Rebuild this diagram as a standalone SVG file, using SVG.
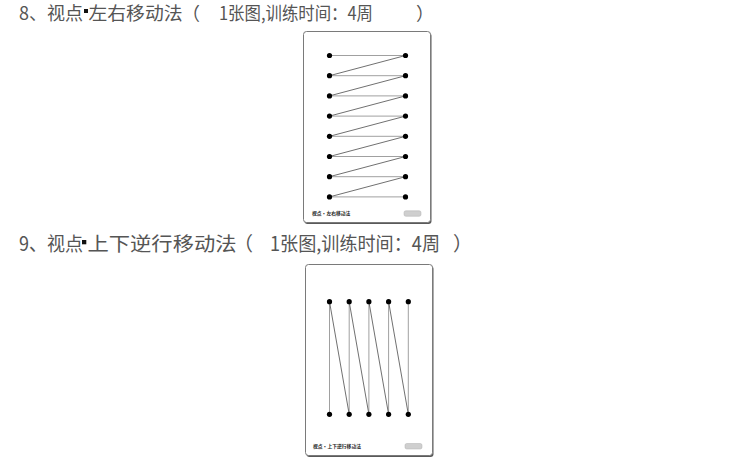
<svg xmlns="http://www.w3.org/2000/svg" width="750" height="463" viewBox="0 0 750 463">
<style>
.h{font-family:"Noto Sans CJK SC","Liberation Sans",sans-serif;fill:#555;font-weight:400}
.sq{fill:#111}
.card{fill:#fff;stroke:#7a7a7a;stroke-width:1}
.shadow{fill:#5a5a5a}
.lbl{font-family:"Noto Sans CJK SC",sans-serif;font-size:4.8px;font-weight:bold;fill:#222}
.tab{fill:#cfcfcf;stroke:#b0b0b0;stroke-width:0.5}
.hl{stroke:#a0a0a0;stroke-width:1;fill:none}
.dl{stroke:#606060;stroke-width:0.9;fill:none}
.dot{fill:#000}
</style>
<rect width="750" height="463" fill="#fff"/>

<g id="heading8">
<text class="h" x="19" y="19.5" font-size="18" textLength="64" lengthAdjust="spacingAndGlyphs">8、视点</text>
<rect class="sq" x="84" y="9" width="4" height="4"/>
<text class="h" x="88.5" y="19.5" font-size="18" textLength="94" lengthAdjust="spacingAndGlyphs">左右移动法</text>
<text class="h" x="182" y="19.5" font-size="18">（</text>
<text class="h" x="219" y="19.5" font-size="18" textLength="154" lengthAdjust="spacingAndGlyphs">1张图,训练时间：4周</text>
<text class="h" x="416" y="19.5" font-size="18">）</text>
</g>

<g id="card8">
<rect class="shadow" x="304.5" y="33" width="127" height="191" rx="3"/>
<rect class="card" x="303.5" y="31.5" width="127" height="191" rx="3"/>
<text class="lbl" x="312" y="215">视点·左右移动法</text>
<rect class="tab" x="404" y="210.8" width="17" height="5.5" rx="1.8"/>
</g>

<g id="connectors8">
<line class="hl" x1="329.5" y1="55.5" x2="405.5" y2="55.5"/>
<line class="hl" x1="329.5" y1="75.7" x2="405.5" y2="75.7"/>
<line class="hl" x1="329.5" y1="95.9" x2="405.5" y2="95.9"/>
<line class="hl" x1="329.5" y1="116.1" x2="405.5" y2="116.1"/>
<line class="hl" x1="329.5" y1="136.3" x2="405.5" y2="136.3"/>
<line class="hl" x1="329.5" y1="156.5" x2="405.5" y2="156.5"/>
<line class="hl" x1="329.5" y1="176.7" x2="405.5" y2="176.7"/>
<line class="hl" x1="329.5" y1="196.9" x2="405.5" y2="196.9"/>
<line class="dl" x1="405.5" y1="55.5" x2="329.5" y2="75.7"/>
<line class="dl" x1="405.5" y1="75.7" x2="329.5" y2="95.9"/>
<line class="dl" x1="405.5" y1="95.9" x2="329.5" y2="116.1"/>
<line class="dl" x1="405.5" y1="116.1" x2="329.5" y2="136.3"/>
<line class="dl" x1="405.5" y1="136.3" x2="329.5" y2="156.5"/>
<line class="dl" x1="405.5" y1="156.5" x2="329.5" y2="176.7"/>
<line class="dl" x1="405.5" y1="176.7" x2="329.5" y2="196.9"/>
</g>

<g id="dots8">
<circle class="dot" cx="329.5" cy="55.5" r="2.6"/><circle class="dot" cx="405.5" cy="55.5" r="2.6"/>
<circle class="dot" cx="329.5" cy="75.7" r="2.6"/><circle class="dot" cx="405.5" cy="75.7" r="2.6"/>
<circle class="dot" cx="329.5" cy="95.9" r="2.6"/><circle class="dot" cx="405.5" cy="95.9" r="2.6"/>
<circle class="dot" cx="329.5" cy="116.1" r="2.6"/><circle class="dot" cx="405.5" cy="116.1" r="2.6"/>
<circle class="dot" cx="329.5" cy="136.3" r="2.6"/><circle class="dot" cx="405.5" cy="136.3" r="2.6"/>
<circle class="dot" cx="329.5" cy="156.5" r="2.6"/><circle class="dot" cx="405.5" cy="156.5" r="2.6"/>
<circle class="dot" cx="329.5" cy="176.7" r="2.6"/><circle class="dot" cx="405.5" cy="176.7" r="2.6"/>
<circle class="dot" cx="329.5" cy="196.9" r="2.6"/><circle class="dot" cx="405.5" cy="196.9" r="2.6"/>
</g>

<g id="heading9">
<text class="h" x="19" y="251" font-size="19.5" textLength="64" lengthAdjust="spacingAndGlyphs">9、视点</text>
<rect class="sq" x="82" y="240" width="4.3" height="4.3"/>
<text class="h" x="87.5" y="251" font-size="19.5" textLength="149" lengthAdjust="spacingAndGlyphs">上下逆行移动法</text>
<text class="h" x="233.5" y="251" font-size="19.5">（</text>
<text class="h" x="270" y="251" font-size="19.5" textLength="170" lengthAdjust="spacingAndGlyphs">1张图,训练时间：4周</text>
<text class="h" x="453" y="251" font-size="19.5">）</text>
</g>

<g id="card9">
<rect class="shadow" x="306.5" y="266" width="127" height="191" rx="3"/>
<rect class="card" x="305.5" y="264.5" width="127" height="191" rx="3"/>
<text class="lbl" x="313" y="447.5">视点·上下逆行移动法</text>
<rect class="tab" x="405" y="443.5" width="17" height="5.5" rx="1.8"/>
</g>

<g id="connectors9">
<line class="hl" x1="329.5" y1="301.7" x2="329.5" y2="414.3"/>
<line class="hl" x1="349.2" y1="301.7" x2="349.2" y2="414.3"/>
<line class="hl" x1="368.9" y1="301.7" x2="368.9" y2="414.3"/>
<line class="hl" x1="388.6" y1="301.7" x2="388.6" y2="414.3"/>
<line class="hl" x1="408.3" y1="301.7" x2="408.3" y2="414.3"/>
<line class="dl" x1="329.5" y1="301.7" x2="349.2" y2="414.3"/>
<line class="dl" x1="349.2" y1="301.7" x2="368.9" y2="414.3"/>
<line class="dl" x1="368.9" y1="301.7" x2="388.6" y2="414.3"/>
<line class="dl" x1="388.6" y1="301.7" x2="408.3" y2="414.3"/>
</g>

<g id="dots9">
<circle class="dot" cx="329.5" cy="301.7" r="2.6"/><circle class="dot" cx="349.2" cy="301.7" r="2.6"/>
<circle class="dot" cx="368.9" cy="301.7" r="2.6"/><circle class="dot" cx="388.6" cy="301.7" r="2.6"/>
<circle class="dot" cx="408.3" cy="301.7" r="2.6"/>
<circle class="dot" cx="329.5" cy="414.3" r="2.6"/><circle class="dot" cx="349.2" cy="414.3" r="2.6"/>
<circle class="dot" cx="368.9" cy="414.3" r="2.6"/><circle class="dot" cx="388.6" cy="414.3" r="2.6"/>
<circle class="dot" cx="408.3" cy="414.3" r="2.6"/>
</g>
</svg>
